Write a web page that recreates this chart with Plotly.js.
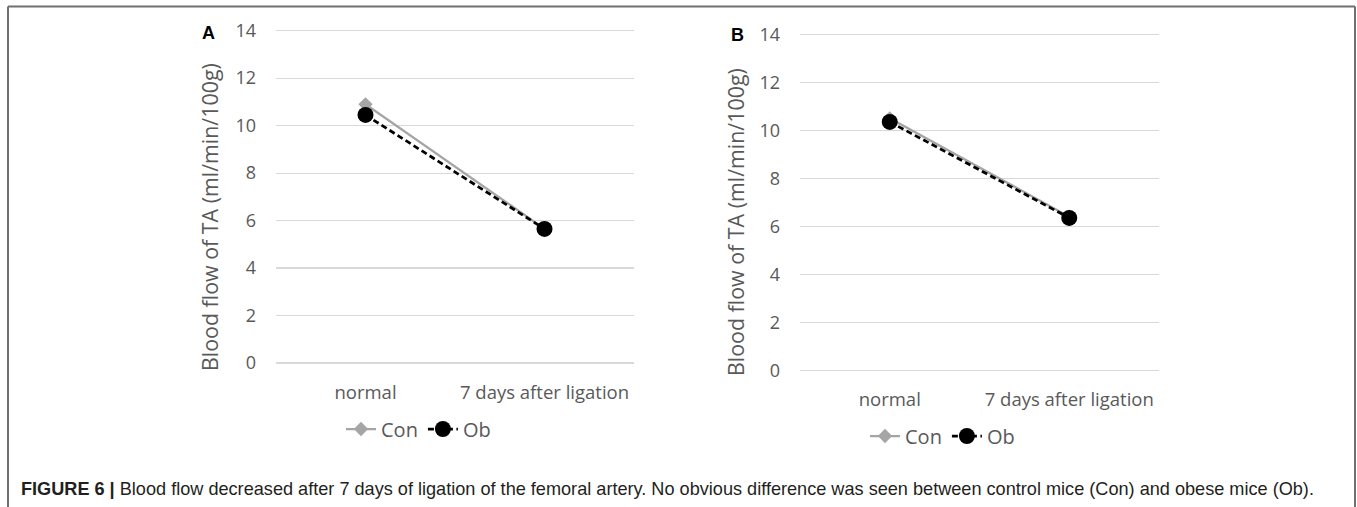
<!DOCTYPE html>
<html>
<head>
<meta charset="utf-8">
<script src="https://cdn.plot.ly/plotly-3.0.1.min.js"></script>
<style>html,body{margin:0;padding:0;background:#fff;}#chart{width:1357px;height:507px;}</style>
</head>
<body>
<div id="chart"></div>
<script>
// Data
const categories = ["normal", "7 days after ligation"];
const conA = [10.9, 5.65];
const obA = [10.45, 5.65];
const conB = [10.5, 6.4];
const obB = [10.35, 6.35];
const yTicks = [0, 2, 4, 6, 8, 10, 12, 14];
const seriesNames = ["Con", "Ob"];
const yTitle = "Blood flow of TA (ml/min/100g)";
const panelLabels = ["A", "B"];
const caption = "<b>FIGURE 6 |</b> Blood flow decreased after 7 days of ligation of the femoral artery. No obvious difference was seen between control mice (Con) and obese mice (Ob).";

const W = 1357, H = 507;
const px = x => x / W;
const py = y => 1 - y / H;

const font = "'Open Sans', Lato, sans-serif";
const gray = "#A5A5A5";
const tickColor = "#595959";
const pad = 0.15; // small range padding so the 0 and 14 gridlines are drawn

function conTrace(y, xa, ya, leg) {
  return {x: categories, y: y, xaxis: xa, yaxis: ya, name: seriesNames[0], legend: leg,
    type: "scatter", mode: "lines+markers",
    line: {color: gray, width: 2.25},
    marker: {symbol: "diamond", size: 11, color: gray}};
}
function obTrace(y, xa, ya, leg) {
  return {x: categories, y: y, xaxis: xa, yaxis: ya, name: seriesNames[1], legend: leg,
    type: "scatter", mode: "lines+markers",
    line: {color: "#000", width: 2.75, dash: "6px,3.5px"},
    marker: {symbol: "circle", size: 16, color: "#000"}};
}

const data = [
  conTrace(conA, "x", "y", "legend"),
  obTrace(obA, "x", "y", "legend"),
  conTrace(conB, "x2", "y2", "legend2"),
  obTrace(obB, "x2", "y2", "legend2")
];

function xAxis(domain, anchor) {
  return {domain: domain, anchor: anchor, type: "category", range: [-0.5, 1.5],
    showgrid: false, showline: false, zeroline: false, ticks: "",
    tickfont: {family: font, size: 18.5, color: tickColor}, ticklabelstandoff: 13,
    fixedrange: true};
}
function yDomain(y0px, y14px) {
  const unit = (y0px - y14px) / 14;
  return [py(y0px + pad * unit), py(y14px - pad * unit)];
}
function yAxis(domain, anchor) {
  return {domain: domain, anchor: anchor, range: [-pad, 14 + pad], tickvals: yTicks,
    showgrid: true, gridcolor: "#d9d9d9", gridwidth: 1.2, zeroline: false, showline: false, ticks: "",
    tickfont: {family: font, size: 18, color: tickColor}, ticklabelstandoff: 19,
    fixedrange: true};
}

const legendFont = {family: font, size: 20, color: tickColor};

const layout = {
  width: W, height: H,
  margin: {l: 0, r: 0, t: 0, b: 0},
  paper_bgcolor: "#fff", plot_bgcolor: "#fff",
  showlegend: true,
  xaxis: xAxis([px(276), px(634)], "y"),
  yaxis: yAxis(yDomain(363, 30.7), "x"),
  xaxis2: xAxis([px(800), px(1159)], "y2"),
  yaxis2: yAxis(yDomain(370.3, 34.3), "x2"),
  legend: {orientation: "h", x: px(341), y: py(429), xanchor: "left", yanchor: "middle",
    font: legendFont, itemwidth: 30, tracegroupgap: 0, bgcolor: "rgba(0,0,0,0)"},
  legend2: {orientation: "h", x: px(865), y: py(436), xanchor: "left", yanchor: "middle",
    font: legendFont, itemwidth: 30, tracegroupgap: 0, bgcolor: "rgba(0,0,0,0)"},
  annotations: [
    {text: yTitle, xref: "paper", yref: "paper", x: px(210), y: py(217), textangle: -90,
      showarrow: false, xanchor: "center", yanchor: "middle",
      font: {family: font, size: 21.4, color: tickColor}},
    {text: yTitle, xref: "paper", yref: "paper", x: px(735), y: py(222), textangle: -90,
      showarrow: false, xanchor: "center", yanchor: "middle",
      font: {family: font, size: 21.4, color: tickColor}},
    {text: "<b>" + panelLabels[0] + "</b>", xref: "paper", yref: "paper", x: px(208), y: py(33),
      showarrow: false, xanchor: "center", yanchor: "middle",
      font: {family: "Liberation Sans, Arial, sans-serif", size: 18, color: "#000"}},
    {text: "<b>" + panelLabels[1] + "</b>", xref: "paper", yref: "paper", x: px(737), y: py(35),
      showarrow: false, xanchor: "center", yanchor: "middle",
      font: {family: "Liberation Sans, Arial, sans-serif", size: 18, color: "#000"}},
    {text: caption, xref: "paper", yref: "paper", x: px(19), y: py(489),
      showarrow: false, xanchor: "left", yanchor: "middle",
      font: {family: "Liberation Sans, Arial, sans-serif", size: 18.14, color: "#231f20"}}
  ],
  shapes: [
    {type: "line", xref: "paper", yref: "paper", x0: px(8), x1: px(1355), y0: py(6.5), y1: py(6.5),
      line: {color: "#707070", width: 2}},
    {type: "line", xref: "paper", yref: "paper", x0: px(8), x1: px(8), y0: py(6.5), y1: 0,
      line: {color: "#707070", width: 2}},
    {type: "line", xref: "paper", yref: "paper", x0: px(1355), x1: px(1355), y0: py(6.5), y1: 0,
      line: {color: "#707070", width: 2}}
  ]
};

Plotly.newPlot("chart", data, layout, {staticPlot: true, displayModeBar: false});
</script>
</body>
</html>
